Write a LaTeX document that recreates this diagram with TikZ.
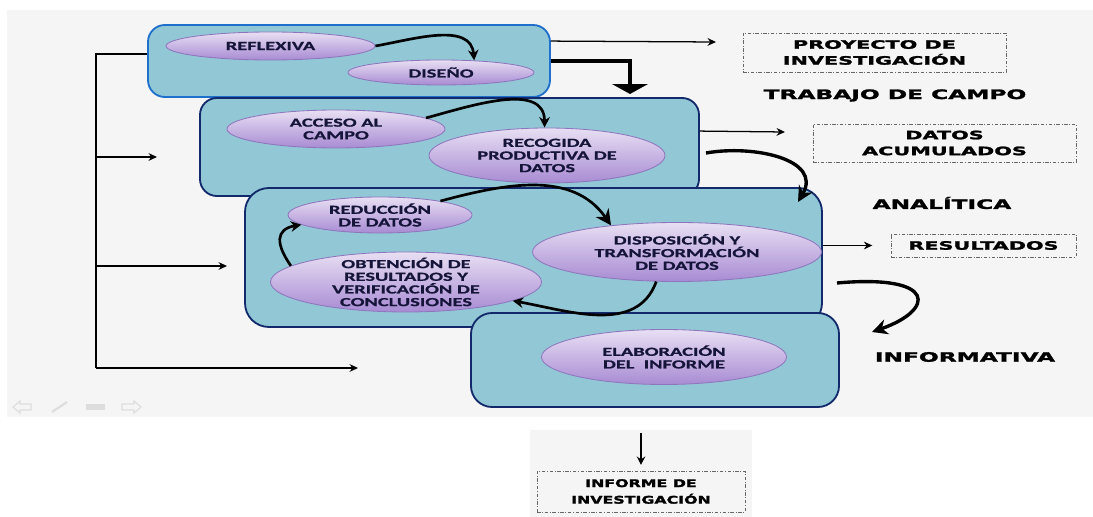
\documentclass[tikz,border=0pt]{standalone}
\usepackage{fontspec}
\setmainfont{Carlito}
\newfontfamily\ellfont{Carlito}[FakeStretch=1.65, BoldFeatures={FakeBold=0.8}]
\newfontfamily\capfont{DejaVu Sans}[FakeStretch=1.8, BoldFeatures={FakeBold=2}]
\newfontfamily\capfontb{DejaVu Sans}[FakeStretch=1.5, BoldFeatures={FakeBold=2}]
\usetikzlibrary{shapes.geometric,arrows.meta,calc}

\definecolor{fondo}{HTML}{F5F5F5}
\definecolor{caja}{HTML}{92C8D5}
\definecolor{bordeazul}{HTML}{1F6FCC}
\definecolor{bordenavy}{HTML}{12296B}
\definecolor{elltop}{HTML}{E8DFF3}
\definecolor{ellbot}{HTML}{A88BD3}
\definecolor{ellborde}{HTML}{8E76BE}
\definecolor{tinta}{HTML}{15153A}
\definecolor{guion}{HTML}{666666}
\definecolor{iconos}{HTML}{DDDDDD}

\tikzset{
    fase/.style 2 args={rectangle, draw=bordenavy, fill=caja, line width=1.3pt,
        rounded corners=12pt, minimum width=#1*0.025cm, minimum height=#2*0.025cm, inner sep=0pt},
    elip/.style 2 args={ellipse, draw=ellborde, line width=0.6pt, top color=elltop, bottom color=ellbot,
        minimum width=#1*0.025cm, minimum height=#2*0.025cm, inner xsep=0pt, inner ysep=-2.8pt,
        align=center, text=tinta, font=\ellfont\bfseries\fontsize{8.8}{9}\selectfont},
    resul/.style 2 args={rectangle, draw=guion, line width=0.6pt,
        dash pattern=on 2.5pt off 1.2pt on 0.6pt off 1.2pt,
        minimum width=#1*0.025cm, minimum height=#2*0.025cm, inner sep=0pt,
        align=center, font=\capfont\bfseries\fontsize{8.2}{11.3}\selectfont},
    etapa/.style={font=\capfont\bfseries\fontsize{9.2}{11}\selectfont},
    fina/.style={-{Stealth[length=6pt,width=5.5pt]}, line width=0.9pt},
    gruesa/.style={-{Stealth[length=11pt,width=11pt]}, line width=2.4pt},
}

\begin{document}
\begin{tikzpicture}[x=0.025cm, y=0.025cm]

    \fill[white] (0,0) rectangle (1093,-517);
    \useasboundingbox (0,0) rectangle (1093,-517);
    \fill[fondo] (7,-10) rectangle (1093,-417);
    \fill[fondo] (530,-430) rectangle (752,-517);

    % controles de la diapositiva
    \begin{scope}[draw=iconos, fill=iconos, line width=0.8pt]
        \draw (13,-407) -- (20,-401) -- (20,-404) -- (31,-404) -- (31,-410) -- (20,-410) -- (20,-413) -- cycle;
        \draw[line width=1.5pt] (52,-412) -- (67,-402);
        \fill (86,-404) rectangle (105,-410);
        \draw (141,-407) -- (134,-401) -- (134,-404) -- (122,-404) -- (122,-410) -- (134,-410) -- (134,-413) -- cycle;
    \end{scope}

    % fases
    \node[fase={402}{72}, draw=bordeazul] (f1) at (349,-61) {};
    \node[fase={499}{98}] (f2) at (449.5,-147) {};
    \node[fase={577}{139}, rounded corners=17pt] (f3) at (533.5,-257.5) {};
    \node[fase={368}{94}, rounded corners=15pt] (f4) at (655,-360) {};

    % actividades
    \node[elip={209}{28}] (refl) at (270.5,-46) {REFLEXIVA};
    \node[elip={186}{25}] (dis) at (441,-72.5) {DISEÑO};
    \node[elip={218}{38}] (acc) at (336,-129) {ACCESO AL\\CAMPO};
    \node[elip={236}{55}] (rec) at (547,-155.5) {RECOGIDA\\PRODUCTIVA DE\\DATOS};
    \node[elip={184}{36}] (red) at (380,-215) {REDUCCIÓN\\DE DATOS};
    \node[elip={271}{60}] (obt) at (406,-282) {OBTENCIÓN DE\\RESULTADOS Y\\VERIFICACIÓN DE\\CONCLUSIONES};
    \node[elip={289}{59}] (disp) at (677,-252) {DISPOSICIÓN Y\\TRANSFORMACIÓN\\DE DATOS};
    \node[elip={245}{55}] (elab) at (664,-357) {ELABORACIÓN\\DEL\ \ INFORME};

    \begin{scope}[every edge/.style={draw, line width=1.9pt, -{Stealth[length=7.5pt,width=7.5pt]}}]
        \path (refl.east) edge [out=10, in=95] (dis.20);
        \path (acc.7) edge [out=15, in=90] (rec.95);
        \path (red.13) edge [out=15, in=125, -{Stealth[length=11pt,width=11pt]}] (disp.158);
        \path (disp.235) edge [out=-110, in=-10] (obt.-10);
        \path (obt.172) edge [out=125, in=190, looseness=1.6] (red.187);
    \end{scope}

    % productos
    \node[resul={263}{39}] (proy) at (874.5,-52.5) {PROYECTO DE\\INVESTIGACIÓN};
    \node[resul={263}{38}] (datos) at (944.5,-143) {DATOS\\ACUMULADOS};
    \node[resul={185}{23}] (res) at (983.5,-245.5) {RESULTADOS};
    \node[resul={208}{41}, font=\capfontb\bfseries\fontsize{7.5}{11.8}\selectfont] (infinv) at (641,-491.5) {INFORME DE\\INVESTIGACIÓN};

    \node[etapa] (trab) at (895,-95.5) {TRABAJO DE CAMPO};
    \node[etapa] (anal) at (942,-203) {ANALÍTICA};
    \node[etapa] (inform) at (965,-357) {INFORMATIVA};

    \draw[fina] ($(f1.north east)+(0,-17)$) -- (716,-42);
    \draw[fina] ($(f2.north east)+(0,-34)$) -- (785,-132);
    \draw[fina] (f3.east |- res.west) -- ([xshift=-13pt]res.west);
    \coordinate (baja) at (641,-433);
    \draw[fina, -{Stealth[length=6pt,width=6pt]}] (baja) -- ([yshift=4pt]infinv.north);

    \coordinate (caida) at (630,-94);
    \draw[line width=2.5pt, -{Triangle[width=25pt,length=7pt]}] (f1.east) -| (caida);

    \coordinate (c1a) at (706,-153);
    \coordinate (c1b) at (798,-202);
    \coordinate (c2a) at (837,-283);
    \coordinate (c2b) at (872,-332);
    \draw[gruesa] (c1a) to [out=10, in=60, looseness=1.2] (c1b);
    \draw[gruesa] (c2a) .. controls (938,-274) and (935,-310) .. (c2b);

    % retorno lateral
    \coordinate (rama) at (96,-368);
    \draw[line width=1.6pt] ($(f1.north west)+(0,-30)$) -| (rama);
    \foreach \i/\yy/\xx in {1/157/157, 2/266/227, 3/368/358} {
        \coordinate (ini\i) at (96,-\yy);
        \coordinate (fin\i) at (\xx,-\yy);
        \draw[fina] (ini\i) -- (fin\i);
    }

\end{tikzpicture}
\end{document}
